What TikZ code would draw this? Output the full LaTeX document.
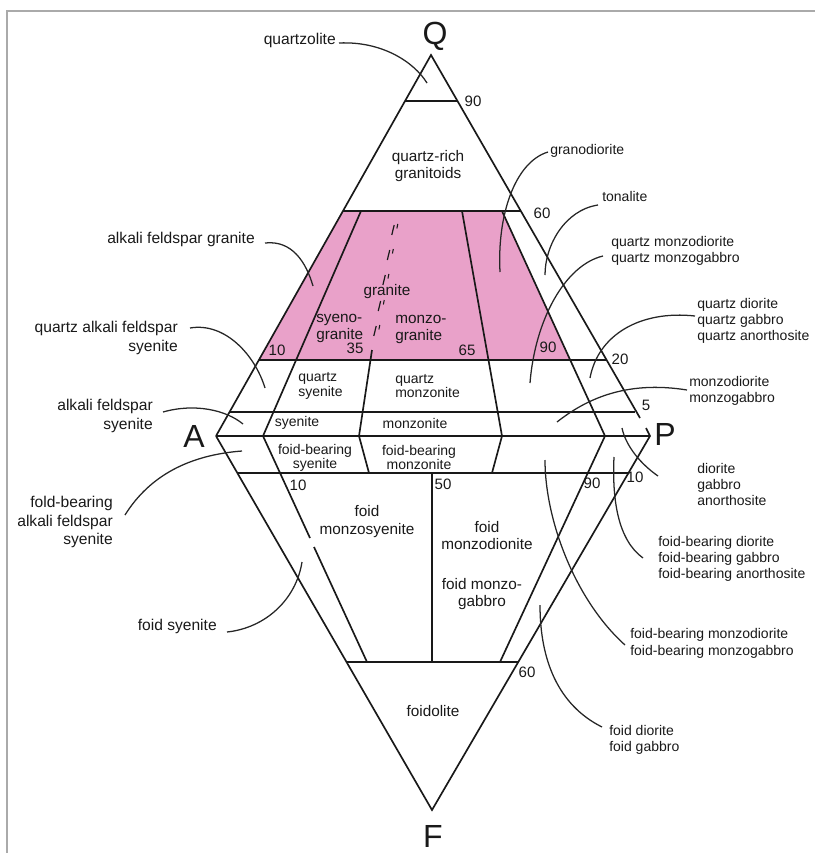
\documentclass[tikz,border=0pt]{standalone}
\usepackage{fontspec}
\setmainfont{Liberation Sans}
\definecolor{pinkfill}{RGB}{233,161,201}
\definecolor{framegray}{RGB}{170,170,170}
\begin{document}
\begin{tikzpicture}[x=0.75pt,y=-0.75pt,
  edge/.style={line width=1.25pt, black!90},
  lead/.style={line width=0.95pt, black!85},
  lab/.style={font=\fontsize{11.7}{14.2}\selectfont, text=black!90, inner sep=0pt, align=center},
  labl/.style={font=\fontsize{11.7}{14.2}\selectfont, text=black!90, inner sep=0pt, align=right},
  labr/.style={font=\fontsize{10.5}{12}\selectfont, text=black!90, inner sep=0pt, align=left},
  inlab/.style={font=\fontsize{11.5}{12.5}\selectfont, text=black!90, inner sep=0pt, align=center},
  smlab/.style={font=\fontsize{10.5}{11}\selectfont, text=black!90, inner sep=0pt, align=center},
  num/.style={font=\fontsize{11.3}{13}\selectfont, text=black!90, inner sep=0pt},
  vert/.style={font=\fontsize{24}{26}\selectfont, text=black!90, inner sep=0pt}]
\useasboundingbox (0,0) rectangle (815,853);
% frame
\draw[framegray, line width=1.5pt] (7,853) -- (7,11) -- (815,11);
% vertices
\coordinate (Q) at (431,55);
\coordinate (A) at (216,436);
\coordinate (P) at (650,436);
\coordinate (F) at (432,810);
% pink field
\fill[pinkfill] (343,211) -- (502,211) -- (570,360) -- (259,360) -- cycle;
% outline
\draw[edge] (A) -- (Q) -- (640,418);
\draw[edge] (646,428) -- (P) -- (F) -- (A);
% horizontal lines
\draw[edge] (405,101) -- (457,101);
\draw[edge] (343,211) -- (521,211);
\draw[edge] (259,360) -- (606,360);
\draw[edge] (229.5,412) -- (635,412);
\draw[edge] (A) -- (P);
\draw[edge] (237.4,473) -- (628.4,473);
\draw[edge] (346.5,662) -- (518.3,662);
% division lines upper
\draw[edge] (361,211) -- (263,436);
\draw[edge] (372,350) -- (359,436) -- (369,473);
\draw[edge] (462,211) -- (502,436) -- (492,473);
\draw[edge] (502,211) -- (605,436) -- (500,662);
% dashed 35 line
\foreach \yy in {230,255,280,306,331}{
  \pgfmathsetmacro{\xx}{375+0.178*(331-\yy)}
  \draw[line width=0.9pt, black!90] (\xx+1.2,\yy-5) -- (\xx-1.2,\yy+5);
  \draw[line width=0.8pt, black!90] (\xx+4.8,\yy-6) -- (\xx+3.9,\yy-1.5);
}
% division lines lower
\draw[edge] (263,436) -- (310,538);
\draw[edge] (314,547) -- (367,662);
\draw[edge] (432,473) -- (432,662);
% vertex letters
\node[vert] (lQ) at (435,36) {Q};
\node[vert] (lA) at (194,436) {A};
\node[vert] (lP) at (665,434) {P};
\node[vert] (lF) at (433,836) {F};
% numbers
\node[num] at (473,101) {90};
\node[num] at (542,213) {60};
\node[num] at (620,359) {20};
\node[num] at (646,405) {5};
\node[num] at (635,477) {10};
\node[num] at (277,350) {10};
\node[num] at (355,348) {35};
\node[num] at (467,350) {65};
\node[num] at (548,347) {90};
\node[num] at (298,485) {10};
\node[num] at (443,484) {50};
\node[num] at (592,483) {90};
\node[num] at (527,672) {60};
% inner labels
\node[inlab] at (428,166) {quartz-rich\\granitoids};
\node[inlab] at (387,292) {granite};
\node[inlab, align=left, anchor=west] at (316,328.5) {syeno-\\granite};
\node[inlab, align=left, anchor=west] at (395,329.5) {monzo-\\granite};
\node[smlab, align=left, anchor=west] at (298,386) {quartz\\syenite};
\node[smlab, align=left, anchor=west] at (395,386) {quartz\\monzonite};
\node[smlab] at (297,423) {syenite};
\node[smlab] at (415,423) {monzonite};
\node[smlab] at (315,458) {foid-bearing\\syenite};
\node[smlab] at (419,457.5) {foid-bearing\\monzonite};
\node[inlab, font=\fontsize{11.5}{12.8}\selectfont] at (367,521.5) {foid\\monzosyenite};
\node[inlab] at (487,535.5) {foid\\monzodionite};
\node[inlab] at (482,594) {foid monzo-\\gabbro};
\node[inlab] at (433,711) {foidolite};
% outer labels left
\node[lab, anchor=east] (tqz) at (336,40) {quartzolite};
\node[lab, anchor=east] (tafg) at (255,239) {alkali feldspar granite};
\node[labl, anchor=east] (tqafs) at (178,337.5) {quartz alkali feldspar\\syenite};
\node[labl, anchor=east] (tafs) at (153,416) {alkali feldspar\\syenite};
\node[labl, anchor=east] (tfb) at (113,522) {fold-bearing\\alkali feldspar\\syenite};
\node[lab, anchor=east] (tfs) at (217,626) {foid syenite};
% outer labels right
\node[labr, anchor=west] (tgd) at (550,151) {granodiorite};
\node[labr, anchor=west] (tto) at (602,196) {tonalite};
\node[labr, anchor=west] (tqmd) at (611,251) {quartz monzodiorite\\quartz monzogabbro};
\node[labr, anchor=west] (tqd) at (697,321) {quartz diorite\\quartz gabbro\\quartz anorthosite};
\node[labr, anchor=west] (tmd) at (689,391) {monzodiorite\\monzogabbro};
\node[labr, anchor=west] (tdi) at (697,484) {diorite\\gabbro\\anorthosite};
\node[labr, anchor=west] (tfbd) at (658,559) {foid-bearing diorite\\foid-bearing gabbro\\foid-bearing anorthosite};
\node[labr, anchor=west, font=\fontsize{10.5}{12.6}\selectfont] (tfbm) at (630,643) {foid-bearing monzodiorite\\foid-bearing monzogabbro};
\node[labr, anchor=west] (tfd) at (609,740) {foid diorite\\foid gabbro};
% leaders
\draw[lead] (339,43) .. controls (382,41) and (414,62) .. (427,83);
\draw[lead] (548,152) .. controls (515,162) and (497,215) .. (500,272);
\draw[lead] (598,205) .. controls (565,210) and (545,245) .. (545,275);
\draw[lead] (603,256) .. controls (565,265) and (535,320) .. (530,383);
\draw[lead] (695,316) .. controls (640,310) and (598,335) .. (590,378);
\draw[lead] (687,390) .. controls (625,380) and (585,400) .. (557,422);
\draw[lead] (658,476) .. controls (642,465) and (626,447) .. (622,428);
\draw[lead] (643,558) .. controls (618,540) and (612,500) .. (614,457);
\draw[lead] (625,645) .. controls (575,600) and (545,520) .. (545,460);
\draw[lead] (602,727) .. controls (558,705) and (540,660) .. (540,605);
\draw[lead] (265,243) .. controls (292,240) and (306,262) .. (313,286);
\draw[lead] (190,328) .. controls (225,322) and (255,355) .. (265,388);
\draw[lead] (163,412) .. controls (195,403) and (226,410) .. (243,424);
\draw[lead] (125,515) .. controls (150,475) and (190,455) .. (242,451);
\draw[lead] (227,632) .. controls (265,628) and (296,600) .. (302,562);
\end{tikzpicture}
\end{document}
